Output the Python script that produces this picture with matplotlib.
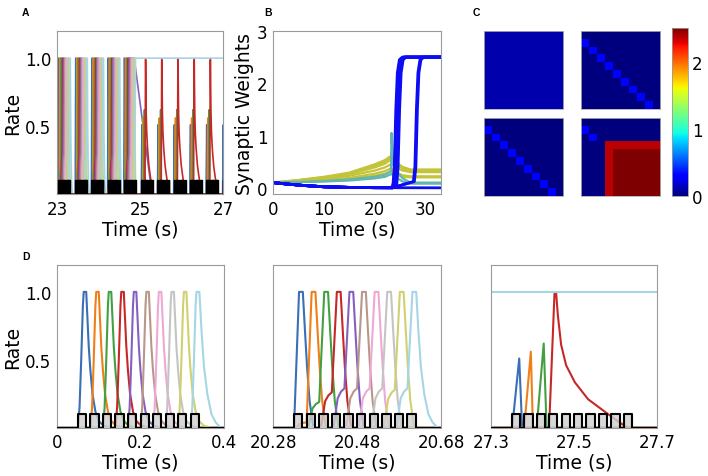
import numpy as np
import matplotlib.pyplot as plt
from matplotlib.cm import ScalarMappable
from matplotlib.colors import Normalize

# colours of the 10 sequence neurons
seq_colors = ['#3a6eb5', '#f07f1a', '#42a042', '#c62828', '#8560c0',
              '#b8978a', '#efa8d4', '#c4c4c4', '#cfd070', '#a5d6e4']

# stimulus boxes, relative to the start of a sequence (s)
stim_on = [0.05, 0.08, 0.11, 0.14, 0.17, 0.20, 0.23, 0.26, 0.29, 0.32]
stim_len = 0.02
stim_h = 0.1

# D1: pulse shape after each onset (dt in s, rate)
rise_dt = [0.0, 0.004, 0.008, 0.012, 0.014]
rise_r = [0.0, 0.15, 0.50, 0.90, 1.0]
decay_dt = [0.020, 0.023, 0.026, 0.030, 0.035, 0.042, 0.050, 0.062, 0.080]
decay_r = [1.0, 0.80, 0.60, 0.42, 0.25, 0.12, 0.05, 0.015, 0.0]
tail_dt = [0.021, 0.026, 0.032, 0.040, 0.050, 0.060, 0.072]
tail_r = [1.0, 0.72, 0.45, 0.25, 0.10, 0.04, 0.0]

# D2: pulses with a shoulder before the main rise
d2_start = 20.28
d2_shoulder = [0.0, 0.04, 0.19, 0.26, 0.29, 0.29, 0.29, 0.29, 0.28, 0.29]
shoulder_dt = [-0.026, -0.016, -0.008, 0.0]
shoulder_frac = [0.0, 0.75, 0.92, 1.0]
d2_dt = [0.012, 0.021, 0.026, 0.031, 0.037, 0.046]
d2_r = [1.0, 1.0, 0.72, 0.45, 0.20, 0.0]

# D3: only the first four neurons fire, the last one is stuck at 1
d3_start = 27.3
d3_blue_t = [27.351, 27.368, 27.375]
d3_blue_r = [0.0, 0.51, 0.0]
d3_orange_t = [27.380, 27.396, 27.401]
d3_orange_r = [0.0, 0.56, 0.0]
d3_green_t = [27.410, 27.427, 27.434]
d3_green_r = [0.0, 0.62, 0.0]
d3_red_t = [27.440, 27.453, 27.457, 27.461, 27.469, 27.481, 27.502, 27.534, 27.578, 27.605, 27.629]
d3_red_r = [0.0, 0.99, 0.99, 0.83, 0.61, 0.46, 0.335, 0.21, 0.11, 0.05, 0.0]

# A: sequence starts
a_full = [22.98, 23.39, 23.78, 24.17, 24.56]
a_partial = [24.98, 25.37, 25.76, 26.15, 26.54, 26.94]
a_purple_fade_t = [24.86, 25.29]

# B: synaptic weights
b_time = [0, 5, 10, 15, 20, 22, 23.2, 23.3, 23.6, 24.5, 25.5, 27, 33]
b_olive = [
    [0.10, 0.15, 0.21, 0.29, 0.45, 0.53, 0.61, 0.62, 0.56, 0.47, 0.40, 0.35, 0.35],
    [0.10, 0.145, 0.20, 0.27, 0.42, 0.50, 0.58, 0.59, 0.53, 0.45, 0.38, 0.34, 0.34],
    [0.10, 0.14, 0.19, 0.26, 0.39, 0.46, 0.54, 0.55, 0.50, 0.43, 0.37, 0.33, 0.33],
    [0.10, 0.13, 0.17, 0.23, 0.33, 0.39, 0.45, 0.46, 0.43, 0.37, 0.33, 0.30, 0.30],
    [0.10, 0.12, 0.15, 0.19, 0.27, 0.32, 0.37, 0.38, 0.34, 0.28, 0.24, 0.22, 0.22],
    [0.10, 0.12, 0.14, 0.17, 0.23, 0.27, 0.31, 0.32, 0.29, 0.24, 0.21, 0.20, 0.20],
]
b_teal = [
    [0.10, 0.11, 0.13, 0.16, 0.21, 0.25, 0.32, 1.05, 0.45, 0.30, 0.18, 0.10, 0.10],
    [0.10, 0.11, 0.12, 0.14, 0.18, 0.21, 0.26, 0.27, 0.24, 0.18, 0.12, 0.08, 0.08],
]
b_decay_t = [0, 3, 6, 10, 15, 20, 23.5]
b_decay_w = [0.10, 0.07, 0.045, 0.02, 0.008, 0.003, 0.002]
b_rise_dt = [0, 0.3, 0.6, 0.9, 1.3, 1.9]
b_rise_w = [0.01, 0.4, 1.5, 2.2, 2.45, 2.5]
b_fast_on = [23.55, 23.7, 23.85, 24.0, 24.15, 24.3]
b_slow_on = [27.6, 27.8]
b_wait_w = 0.12
b_red_t = [23.2, 23.5, 23.7]
b_red_w = [0.0, 0.07, 0.0]

# C: 10x10 weight matrices at four moments
c_init = 0.1
c_chain = 0.3
c_block_edge = 2.37
c_block = 2.5


def style(ax):
    for s in ax.spines.values():
        s.set_color('#9a9a9a')
        s.set_linewidth(0.8)
    ax.tick_params(length=0, labelsize=12, pad=4)


def stim_boxes(ax, starts, x0, x1, lw=1.5):
    xs, ys = [x0], [0]
    for c in starts:
        for on in stim_on:
            xs += [c + on, c + on, c + on + stim_len, c + on + stim_len]
            ys += [0, stim_h, stim_h, 0]
    xs.append(x1)
    ys.append(0)
    ax.fill(xs, ys, color='#cfcfcf', alpha=0.8, zorder=3, lw=0)
    ax.plot(xs, ys, color='k', lw=lw, zorder=4)


def line(ax, x0, x1, t, r, color, lw=1.5, hold=False):
    tt = [x0] + list(t) + [x1]
    rr = [0] + list(r) + [r[-1] if hold else 0]
    ax.plot(tt, rr, color=color, lw=lw)


def d2_trace(on, i):
    s = d2_shoulder[i]
    t = [on + d for d in shoulder_dt] + [on + d2_dt[0]]
    r = [s * f for f in shoulder_frac] + [d2_r[0]]
    if i == 9:
        t += [on + d for d in tail_dt]
        r += tail_r
    else:
        t += [on + d for d in d2_dt[1:]]
        r += d2_r[1:]
    return t, r


fig = plt.figure(figsize=(7.08, 4.77), dpi=100)

# ---------------- A
axA = fig.add_axes([0.0805, 0.591, 0.2345, 0.342])
style(axA)
for k, c in enumerate(a_full):
    for i in range(10):
        t, r = d2_trace(c + stim_on[i], i)
        if k == len(a_full) - 1 and i == 9:
            line(axA, 22.9, 27.1, t[:5], r[:5], seq_colors[i], lw=1.2, hold=True)
        elif k == len(a_full) - 1 and i == 4:
            t2 = t[:6] + a_purple_fade_t
            r2 = r[:6] + [1.0, 0.0]
            line(axA, 22.9, 27.1, t2, r2, seq_colors[i], lw=1.2)
        else:
            line(axA, 22.9, 27.1, t, r, seq_colors[i], lw=1.2)
for c in a_partial:
    off = c - d3_start
    for tt, rr, col in [(d3_blue_t, d3_blue_r, seq_colors[0]),
                        (d3_orange_t, d3_orange_r, seq_colors[1]),
                        (d3_green_t, d3_green_r, seq_colors[2]),
                        (d3_red_t, d3_red_r, seq_colors[3])]:
        line(axA, 22.9, 27.1, [x + off for x in tt], rr, col, lw=1.2)
stim_boxes(axA, a_full + a_partial, 22.9, 27.1, lw=1.0)
axA.set_xlim(23, 27)
axA.set_ylim(0, 1.2)
axA.set_xticks([23, 25, 27])
axA.set_yticks([0.5, 1.0])
axA.set_xlabel('Time (s)', fontsize=13.5, labelpad=1)
axA.set_ylabel('Rate', fontsize=13.5, labelpad=2)

# ---------------- B
axB = fig.add_axes([0.3856, 0.591, 0.237, 0.342])
style(axB)
for w in b_olive:
    axB.plot(b_time, w, color='#c4c43a', lw=1.6)
for w in b_teal:
    axB.plot(b_time, w, color='#63b5ad', lw=1.6)
axB.plot(b_decay_t + [33], b_decay_w + [0.0], color='#0c0cf5', lw=2)
axB.plot(b_red_t, b_red_w, color='#d02020', lw=1.5)
for on in b_fast_on:
    t = b_decay_t + [on + d for d in b_rise_dt] + [33]
    w = b_decay_w + b_rise_w + [2.5]
    axB.plot(t, w, color='#0c0cf5', lw=2)
for on in b_slow_on:
    t = b_decay_t + [on] + [on + d for d in b_rise_dt[1:]] + [33]
    w = b_decay_w + [b_wait_w] + b_rise_w[1:] + [2.5]
    axB.plot(t, w, color='#0c0cf5', lw=2)
axB.set_xlim(0, 33)
axB.set_ylim(-0.12, 3)
axB.set_xticks([0, 10, 20, 30])
axB.set_yticks([0, 1, 2, 3])
axB.set_xlabel('Time (s)', fontsize=13.5, labelpad=1)
axB.set_ylabel('Synaptic Weights', fontsize=13.5, labelpad=2)

# ---------------- C
m_init = np.full((10, 10), c_init)
m_chain = np.zeros((10, 10)) + np.eye(10, k=-1) * c_chain
m_chain2 = m_chain.copy()
m_final = np.zeros((10, 10))
m_final[1, 0] = c_chain
m_final[2, 1] = c_chain
m_final[3:, 3:] = c_block_edge
m_final[4:, 4:] = c_block
mats = [m_init, m_chain, m_chain2, m_final]
pos = [[0.6836, 0.7694, 0.1116, 0.1635], [0.8206, 0.7694, 0.1116, 0.1635],
       [0.6836, 0.587, 0.1116, 0.1635], [0.8206, 0.587, 0.1116, 0.1635]]
norm = Normalize(0, 2.5)
for m, p in zip(mats, pos):
    ax = fig.add_axes(p)
    ax.imshow(m, cmap='jet', norm=norm, aspect='auto', interpolation='nearest')
    ax.set_xticks([])
    ax.set_yticks([])
    for s in ax.spines.values():
        s.set_color('#b0b0b0')
        s.set_linewidth(0.6)
cax = fig.add_axes([0.949, 0.587, 0.0226, 0.352])
cb = fig.colorbar(ScalarMappable(norm=norm, cmap='jet'), cax=cax, ticks=[0, 1, 2])
cb.outline.set_edgecolor('#9a9a9a')
cb.outline.set_linewidth(0.6)
cax.tick_params(length=0, labelsize=12, pad=3)

# ---------------- D
d_pos = [[0.0805, 0.101, 0.2359, 0.342], [0.3856, 0.101, 0.2373, 0.342],
         [0.6935, 0.101, 0.2345, 0.342]]
axD1 = fig.add_axes(d_pos[0])
style(axD1)
for i, on in enumerate(stim_on):
    if i == 9:
        t = [on + d for d in rise_dt + tail_dt]
        r = rise_r + tail_r
    else:
        t = [on + d for d in rise_dt + decay_dt]
        r = rise_r + decay_r
    line(axD1, 0, 0.4, t, r, seq_colors[i])
stim_boxes(axD1, [0.0], 0, 0.4)
axD1.set_xlim(0, 0.4)
axD1.set_ylim(0, 1.2)
axD1.set_xticks([0, 0.2, 0.4])
axD1.set_xticklabels(['0', '0.2', '0.4'])
axD1.set_yticks([0.5, 1.0])
axD1.set_xlabel('Time (s)', fontsize=13.5, labelpad=1)
axD1.set_ylabel('Rate', fontsize=13.5, labelpad=2)

axD2 = fig.add_axes(d_pos[1])
style(axD2)
for i, on in enumerate(stim_on):
    t, r = d2_trace(d2_start + on, i)
    line(axD2, d2_start, d2_start + 0.4, t, r, seq_colors[i])
stim_boxes(axD2, [d2_start], d2_start, d2_start + 0.4)
axD2.set_xlim(d2_start, d2_start + 0.4)
axD2.set_ylim(0, 1.2)
axD2.set_xticks([20.28, 20.48, 20.68])
axD2.set_xticklabels(['20.28', '20.48', '20.68'])
axD2.set_yticks([])
axD2.set_xlabel('Time (s)', fontsize=13.5, labelpad=1)

axD3 = fig.add_axes(d_pos[2])
style(axD3)
for i in range(4, 9):
    axD3.plot([d3_start, d3_start + 0.4], [0, 0], color=seq_colors[i], lw=1.5)
for tt, rr, col in [(d3_blue_t, d3_blue_r, seq_colors[0]),
                    (d3_orange_t, d3_orange_r, seq_colors[1]),
                    (d3_green_t, d3_green_r, seq_colors[2]),
                    (d3_red_t, d3_red_r, seq_colors[3])]:
    line(axD3, d3_start, d3_start + 0.4, tt, rr, col)
axD3.plot([d3_start, d3_start + 0.4], [1.0, 1.0], color=seq_colors[9], lw=1.5)
stim_boxes(axD3, [d3_start], d3_start, d3_start + 0.4)
axD3.set_xlim(d3_start, d3_start + 0.4)
axD3.set_ylim(0, 1.2)
axD3.set_xticks([27.3, 27.5, 27.7])
axD3.set_xticklabels(['27.3', '27.5', '27.7'])
axD3.set_yticks([])
axD3.set_xlabel('Time (s)', fontsize=13.5, labelpad=1)

# panel letters
for lab, x, y in [('A', 0.031, 0.972), ('B', 0.373, 0.972), ('C', 0.668, 0.972),
                  ('D', 0.031, 0.462)]:
    fig.text(x, y, lab, fontsize=7.5, fontweight='bold', family='Liberation Sans',
             ha='left', va='center')

fig.savefig('out.png', dpi=100)
